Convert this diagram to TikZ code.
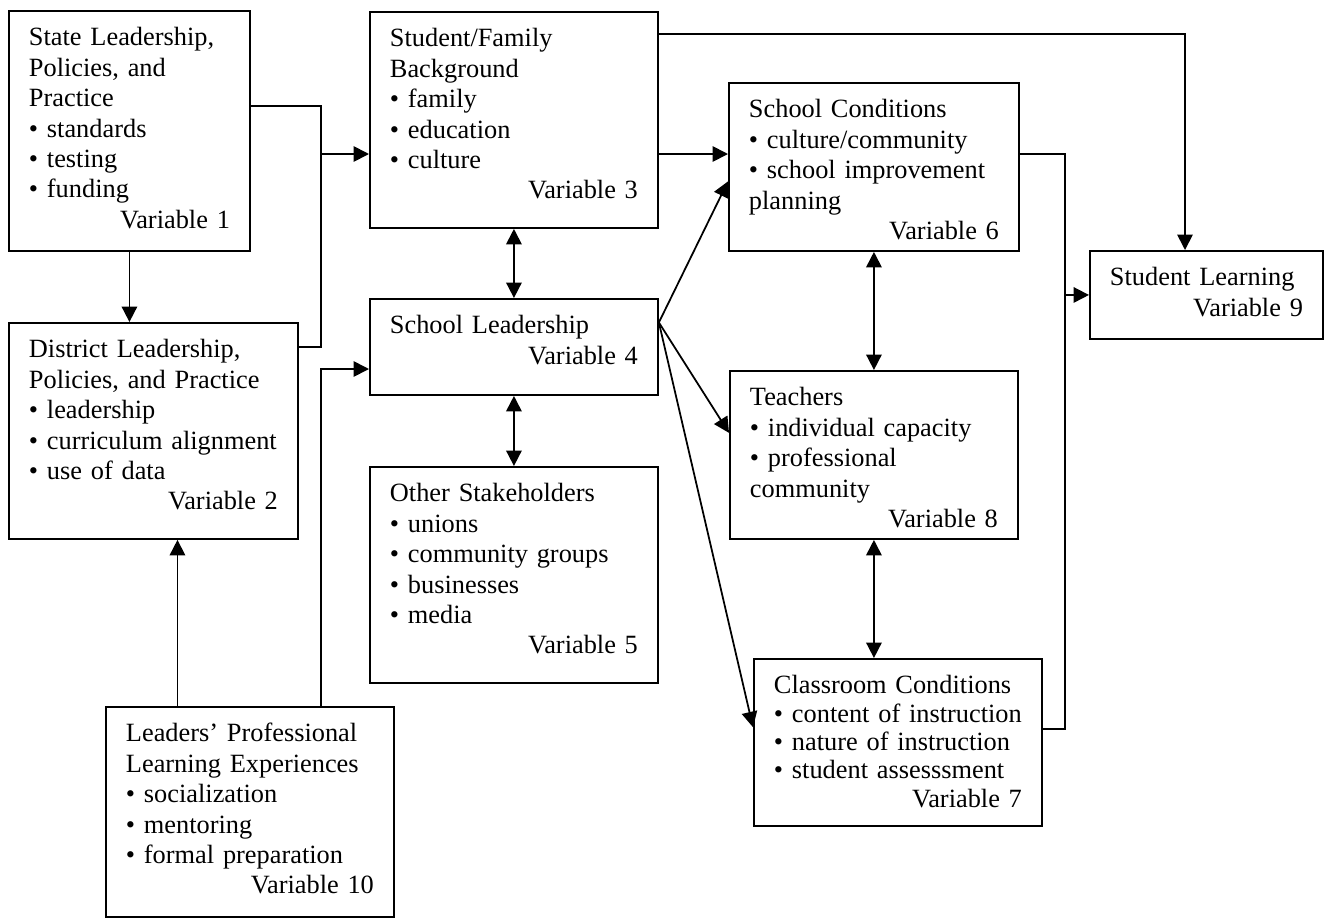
\documentclass[tikz,border=0pt]{standalone}
\usepackage{fontspec}
\setmainfont{Liberation Serif}
\usepackage{tikz}
\usetikzlibrary{calc,positioning,arrows.meta}
\tikzset{
	>={Triangle[length=3.1mm,width=3.1mm]},
	varbox/.style={draw, line width=1.1pt, anchor=north west, align=left,
		inner xsep=0.4cm, inner ysep=0.34cm, text height=0.36cm,
		font=\fontsize{15}{17.3}\selectfont},
}
\newcommand{\bul}{\textbullet\ }
\newcommand{\varno}[1]{\\\hspace*{\fill}Variable #1}

\begin{document}
\begin{tikzpicture}[x=0.02cm, y=-0.02cm, line width=1pt]
		\useasboundingbox (0,0) rectangle (1325,920);

		% boxes
		\node[varbox, text width=4.02cm, text depth=3.76cm] (state) at (8,10)
			{State Leadership,\\ Policies, and\\ Practice\\ \bul standards\\ \bul testing\\ \bul funding\varno{1}};
		\node[varbox, text width=4.98cm, text depth=3.28cm] (district) at (8,322)
			{District Leadership,\\ Policies, and Practice\\ \bul leadership\\ \bul curriculum alignment\\ \bul use of data\varno{2}};
		\node[varbox, text width=4.96cm, text depth=3.28cm] (family) at (369,11)
			{Student/Family\\ Background\\ \bul family\\ \bul education\\ \bul culture\varno{3}};
		\node[varbox, text width=4.96cm, text depth=0.88cm] (schlead) at (369,298)
			{School Leadership\varno{4}};
		\node[varbox, text width=4.96cm, text depth=3.28cm] (others) at (369,466)
			{Other Stakeholders\\ \bul unions\\ \bul community groups\\ \bul businesses\\ \bul media\varno{5}};
		\node[varbox, text width=5.0cm, text depth=2.32cm] (schcond) at (728,82)
			{School Conditions\\ \bul culture/community\\ \bul school improvement\\ planning\varno{6}};
		\node[varbox, text width=4.96cm, text depth=2.32cm] (teachers) at (729,370)
			{Teachers\\ \bul individual capacity\\ \bul professional\\ community\varno{8}};
		\node[varbox, text width=4.96cm, text depth=2.30cm, font=\fontsize{15}{16.1}\selectfont] (classroom) at (753,658)
			{Classroom Conditions\\ \bul content of instruction\\ \bul nature of instruction\\ \bul student assesssment\varno{7}};
		\node[varbox, text width=3.86cm, text depth=0.72cm] (learning) at (1089,250)
			{Student Learning\varno{9}};
		\node[varbox, text width=4.96cm, text depth=3.16cm] (leaders) at (105,706)
			{Leaders’ Professional\\ Learning Experiences\\ \bul socialization\\ \bul mentoring\\ \bul formal preparation\varno{10}};

		% left side
		\coordinate (trunkTop) at (321,106);
		\coordinate (trunkBot) at (321,347);
		\coordinate (trunkIn) at (321,154);
		\draw (state.east |- trunkTop) -- (trunkTop) -- (trunkBot) -- (district.east |- trunkBot);
		\draw[->] (trunkIn) -- (family.west |- trunkIn);
		\draw[->] (state.south) -- (state.south |- district.north);
		\draw[->] ($(leaders.north west)!0.25!(leaders.north east)$) coordinate (lp) -- (lp |- district.south);
		\coordinate (rise) at (321,369);
		\draw[->] (rise |- leaders.north) -- (rise) -- (schlead.west |- rise);

		% top
		\coordinate (over) at (1185,34);
		\draw[->] (family.east |- over) -- (over) -- (over |- learning.north);
		\coordinate (mid) at (693,154);
		\draw[->] (family.east |- mid) -- (schcond.west |- mid);

		% centre column
		\draw[<->] (family.south) -- (schlead.north);
		\draw[<->] (schlead.south) -- (others.north);

		% fan out of school leadership
		\coordinate (fan) at ($(schlead.north east)!0.25!(schlead.south east)$);
		\draw[->] (fan) -- ($(schcond.north west)!0.585!(schcond.south west)$);
		\draw[->] (fan) -- ($(teachers.north west)!0.37!(teachers.south west)$);
		\draw[->] (fan) -- ($(classroom.north west)!0.41!(classroom.south west)$);

		% right column
		\draw[<->] (schcond.south) -- (teachers.north);
		\draw[<->] (teachers.south) -- (teachers.south |- classroom.north);
		\coordinate (backTop) at (1065,154);
		\coordinate (backBot) at (1065,729);
		\draw (schcond.east |- backTop) -- (backTop) -- (backBot) -- (classroom.east |- backBot);
		\draw[->] (backTop |- learning.west) -- (learning.west);
	\end{tikzpicture}
\end{document}
